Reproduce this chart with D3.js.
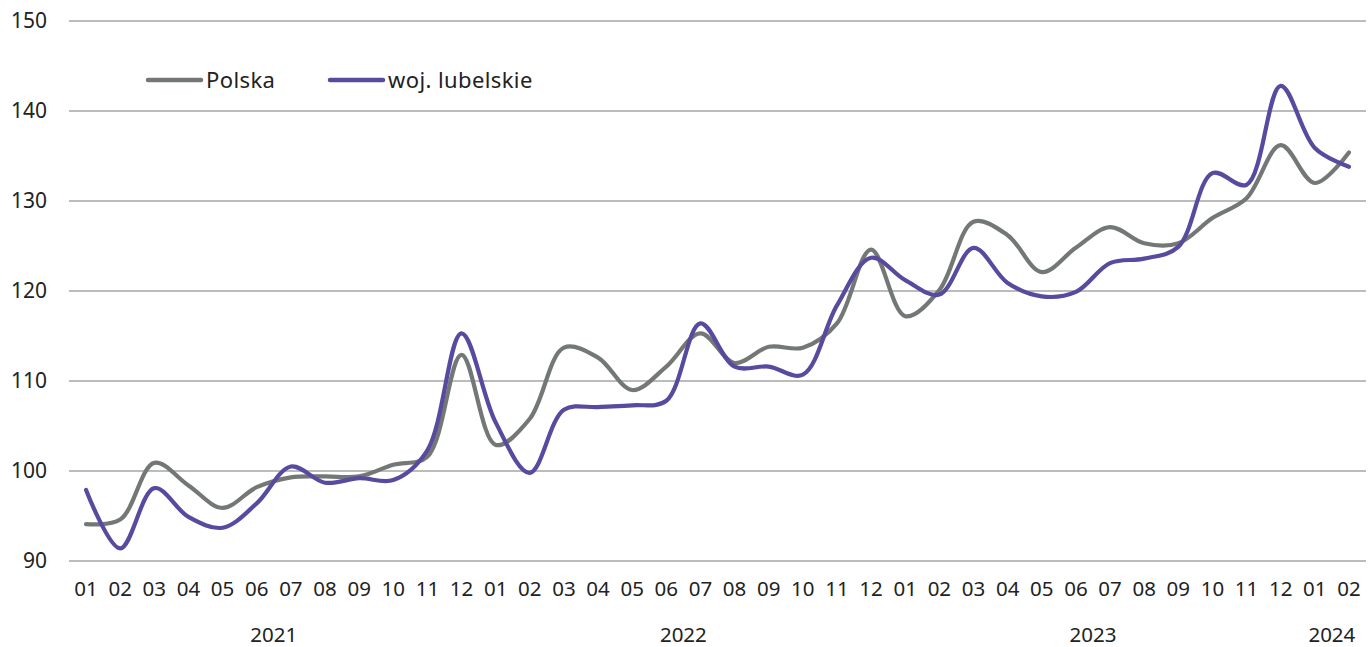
<!DOCTYPE html>
<html>
<head>
<meta charset="utf-8">
<script src="https://cdn.jsdelivr.net/npm/d3@7"></script>
<style>
  body { margin: 0; background: #fff; }
  text { font-family: "Noto Sans", "Open Sans", sans-serif; fill: #222; }
</style>
</head>
<body>
<div id="chart-area"></div>
<script>
const months = ['01','02','03','04','05','06','07','08','09','10','11','12',
  '01','02','03','04','05','06','07','08','09','10','11','12',
  '01','02','03','04','05','06','07','08','09','10','11','12',
  '01','02'];
const years = [
  { label: '2021', from: 0, to: 11 },
  { label: '2022', from: 12, to: 23 },
  { label: '2023', from: 24, to: 35 },
  { label: '2024', from: 36, to: 37 }
];
const polska = [94.1, 94.6, 100.9, 98.4, 95.9, 98.2, 99.3, 99.4, 99.4, 100.7, 101.6, 112.9,
  102.9, 105.8, 113.7, 112.6, 109.0, 111.6, 115.3, 112.0, 113.8, 113.7, 116.4, 124.6,
  117.2, 120.1, 127.7, 126.2, 122.1, 124.8, 127.1, 125.3, 125.3, 128.1, 130.3, 136.2,
  132.0, 135.4];
const lubelskie = [97.9, 91.4, 98.1, 94.9, 93.7, 96.4, 100.5, 98.7, 99.2, 99.0, 102.3, 115.3,
  105.4, 99.8, 106.8, 107.1, 107.3, 107.8, 116.4, 111.6, 111.6, 110.7, 118.4, 123.7,
  121.2, 119.6, 124.8, 120.9, 119.4, 119.9, 123.1, 123.6, 124.9, 133.1, 131.8, 142.8,
  135.9, 133.8];
const yTicks = [90, 100, 110, 120, 130, 140, 150];

const series = [
  { name: 'Polska', values: polska, color: '#737877' },
  { name: 'woj. lubelskie', values: lubelskie, color: '#574a9f' }
];

const WIDTH = 1370, HEIGHT = 647;
const MARGINS = { top: 21, right: 4, bottom: 86, left: 69 };
const CHART_WIDTH = WIDTH - MARGINS.left - MARGINS.right;
const CHART_HEIGHT = HEIGHT - MARGINS.top - MARGINS.bottom;

const svg = d3.select('#chart-area').append('svg')
  .attr('width', WIDTH)
  .attr('height', HEIGHT);

const g = svg.append('g')
  .attr('transform', `translate(${MARGINS.left}, ${MARGINS.top})`);

// Scales
const xScale = d3.scaleBand()
  .domain(d3.range(months.length))
  .range([0, CHART_WIDTH]);
const yScale = d3.scaleLinear()
  .domain([90, 150])
  .range([CHART_HEIGHT, 0]);

// grid lines
g.selectAll('.grid')
  .data(yTicks)
  .enter().append('line')
  .attr('class', 'grid')
  .attr('x1', 0)
  .attr('x2', CHART_WIDTH)
  .attr('y1', d => yScale(d))
  .attr('y2', d => yScale(d))
  .attr('stroke', '#a6a6a6')
  .attr('stroke-width', 1.3);

// Y Axis
const yAxisCall = d3.axisLeft(yScale).tickValues(yTicks).tickSize(0).tickPadding(22);
const yAxis = g.append('g').call(yAxisCall);
yAxis.select('.domain').remove();
yAxis.selectAll('text').attr('font-size', '21px').style('font-family', null);

// X Axis (months)
const xAxisCall = d3.axisBottom(xScale).tickSize(0).tickPadding(20).tickFormat(i => months[i]);
const xAxis = g.append('g')
  .attr('transform', `translate(0, ${CHART_HEIGHT})`)
  .call(xAxisCall);
xAxis.select('.domain').remove();
xAxis.selectAll('text').attr('font-size', '20.5px').style('font-family', null);

// year labels
g.selectAll('.year')
  .data(years)
  .enter().append('text')
  .attr('class', 'year')
  .attr('x', d => (xScale(d.from) + xScale(d.to) + xScale.bandwidth()) / 2)
  .attr('y', CHART_HEIGHT + 81)
  .attr('text-anchor', 'middle')
  .attr('font-size', '20.5px')
  .text(d => d.label);

// lines
const line = d3.line()
  .x((d, i) => xScale(i) + xScale.bandwidth() / 2)
  .y(d => yScale(d))
  .curve(d3.curveCatmullRom.alpha(0.5));

series.forEach(s => {
  g.append('path')
    .datum(s.values)
    .attr('fill', 'none')
    .attr('stroke', s.color)
    .attr('stroke-width', 4.2)
    .attr('stroke-linecap', 'round')
    .attr('stroke-linejoin', 'round')
    .attr('d', line);
});

// legend
const legend = svg.append('g').attr('transform', 'translate(148, 80)');
const legendX = [0, 182];
series.forEach((s, i) => {
  const row = legend.append('g').attr('transform', `translate(${legendX[i]}, 0)`);
  row.append('line')
    .attr('x1', 0).attr('x2', 53)
    .attr('stroke', s.color)
    .attr('stroke-width', 4.5)
    .attr('stroke-linecap', 'round');
  row.append('text')
    .attr('x', 58)
    .attr('y', 8)
    .attr('font-size', '22px')
    .attr('letter-spacing', '0.4px')
    .text(s.name);
});
</script>
</body>
</html>
